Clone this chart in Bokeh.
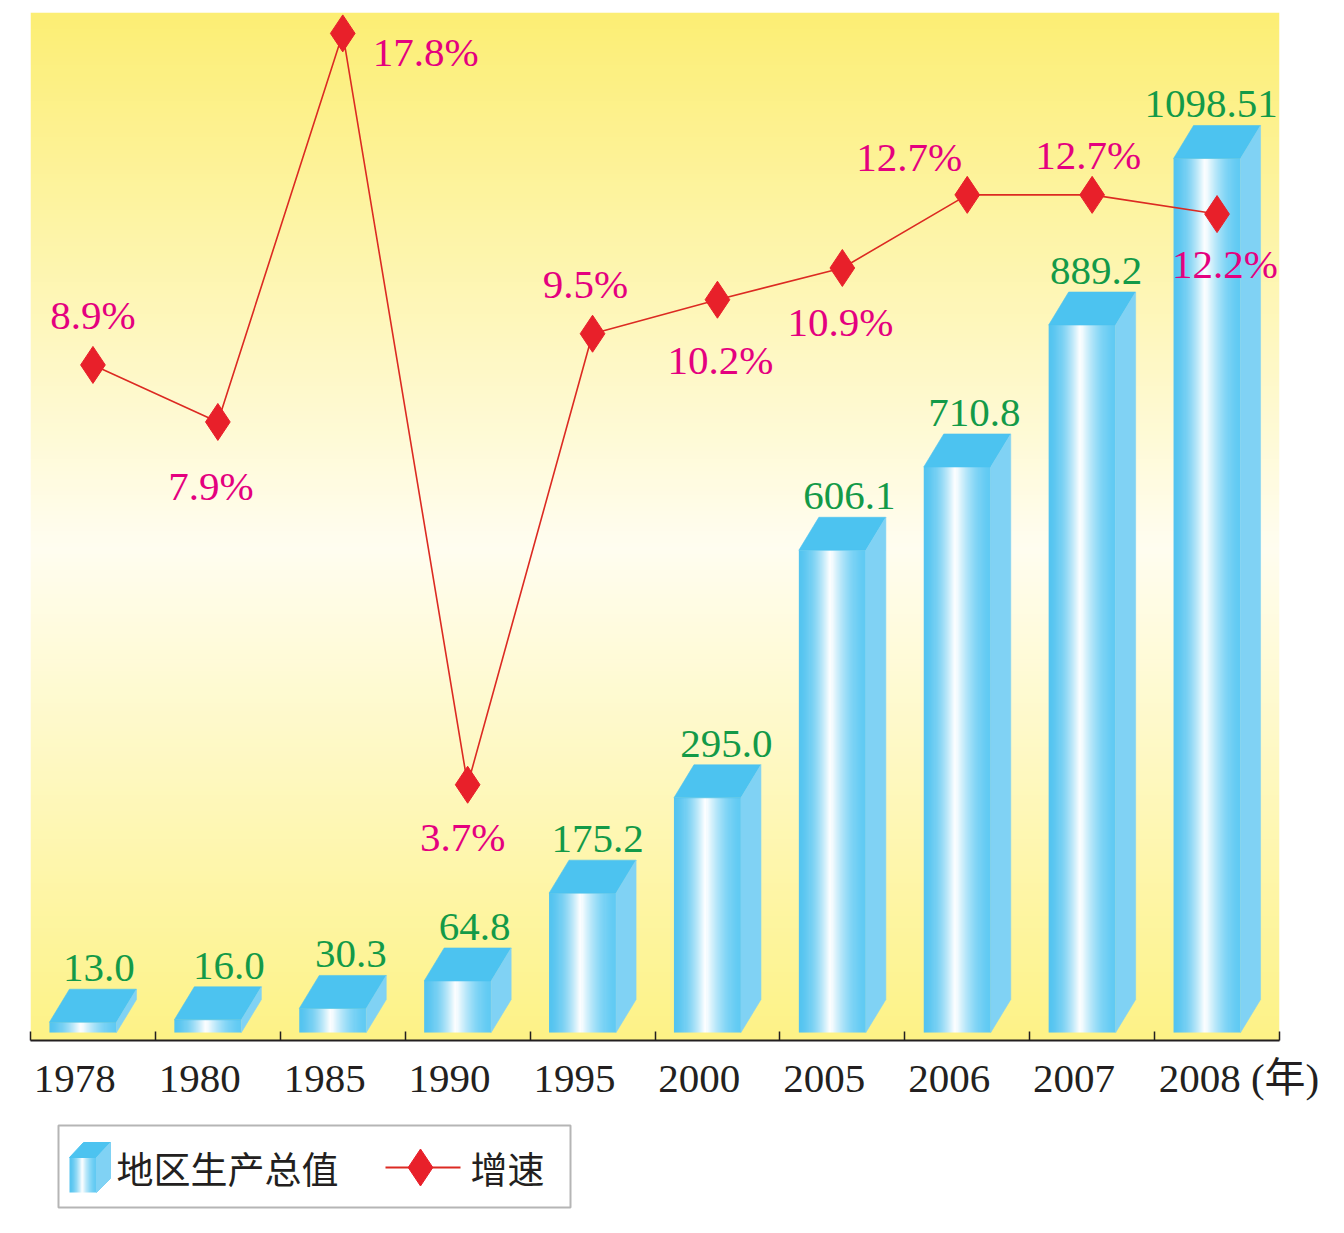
import numpy as np
from bokeh.plotting import figure
from bokeh.models import (Range1d, LinearAxis, FixedTicker, LogScale,
                          ColumnDataSource, CustomJSTickFormatter)
from bokeh.layouts import column
from bokeh.embed import file_html
from bokeh.resources import INLINE
from bokeh.core.properties import value

# ---------------- data ----------------
years = ["1978", "1980", "1985", "1990", "1995", "2000", "2005", "2006", "2007", "2008"]
gdp = [13.0, 16.0, 30.3, 64.8, 175.2, 295.0, 606.1, 710.8, 889.2, 1098.51]
gdp_text = ["13.0", "16.0", "30.3", "64.8", "175.2", "295.0", "606.1", "710.8", "889.2", "1098.51"]
growth = [8.9, 7.9, 17.8, 3.7, 9.5, 10.2, 10.9, 12.7, 12.7, 12.2]
growth_text = ["8.9%", "7.9%", "17.8%", "3.7%", "9.5%", "10.2%", "10.9%", "12.7%", "12.7%", "12.2%"]
axis_unit = "(年)"
legend_labels = ["地区生产总值", "增速"]

# ---------------- styles ----------------
SERIF = "Liberation Serif"
CJK = "Noto Sans CJK SC"
GREEN = "#139a48"
MAGENTA = "#e4007f"
RED = "#e8202a"
LINE_RED = "#dc2a22"
TOP_BLUE = "#4cc3f0"
SIDE_BLUE = "#80d2f4"
DARK = "#231f20"

# label placement offsets (screen px)
gdp_dx = [6, 11, 8, 7, 5, 9, 7, 7, 4, -6]
rate_dx = [0, -7, 83, -5, -7, 3, -2, -58, -4, 8]
rate_dy = [-50, 64, 19, 52, -50, 60, 54, -38, -40, 50]

# ---------------- geometry ----------------
W, H = 1340, 1110
BL, BR, BT, BB = 30, 61, 12, 70
FW = W - BL - BR
FH = H - BT - BB

n = len(years)
x_rng = Range1d(0, n)
y_rng = Range1d(-10, 1282)
rate_rng = Range1d(2.1676, 18.595)
xpu = FW / n
ypu = FH / (y_rng.end - y_rng.start)


def pack(rgb):
    rgb = np.asarray(rgb)
    out = np.empty(rgb.shape[:-1], dtype=np.uint32)
    v = out.view(np.uint8).reshape(rgb.shape[:-1] + (4,))
    v[..., :3] = np.clip(np.round(rgb), 0, 255).astype(np.uint8)
    v[..., 3] = 255
    return out


# background gradient (row 0 = bottom)
nr = 256
s = 1 - (np.arange(nr) + 0.5) / nr  # fraction from top
stops = [0.0, 0.52, 1.0]
bg_rgb = np.stack([
    np.interp(s, stops, [252, 255, 253]),
    np.interp(s, stops, [238, 253, 242]),
    np.interp(s, stops, [116, 240, 134]),
], axis=-1)
bg_img = pack(bg_rgb.reshape(nr, 1, 3))

# front-face horizontal gradient
nc = 64
xf = (np.arange(nc) + 0.5) / nc
peak = 0.47
w = np.where(xf < peak, xf / peak, (1 - xf) / (1 - peak)) ** 1.7
left_c = np.array([84, 196, 240])
right_c = np.array([96, 202, 243])
edge = np.where((xf < peak)[:, None], left_c[None, :], right_c[None, :])
front_rgb = edge + (255 - edge) * w[:, None]
front_img = pack(np.stack([front_rgb, front_rgb]).reshape(2, nc, 3))

# ---------------- main figure ----------------
p = figure(width=W, height=H, x_range=x_rng, y_range=y_rng,
           output_backend="svg", toolbar_location=None,
           min_border_left=BL, min_border_right=BR, min_border_top=BT,
           min_border_bottom=BB, x_axis_location=None, y_axis_location=None)
p.extra_y_ranges = {"rate": rate_rng}
p.extra_y_scales = {"rate": LogScale()}
p.grid.visible = False
p.outline_line_color = None
p.background_fill_color = "white"
p.border_fill_color = "white"

p.image_rgba(image=[bg_img], x=x_rng.start, y=y_rng.start,
             dw=x_rng.end - x_rng.start, dh=y_rng.end - y_rng.start, level="image")

cx = np.arange(n) + 0.5
g = np.array(gdp)
fw = 67 / xpu
L = cx - 43.5 / xpu
R = L + fw
dx = 20 / xpu
dy = 33 / ypu

p.image_rgba(image=[front_img] * n, x=list(L), y=0, dw=fw, dh=list(g))
top_xs = [[l, r, r + dx, l + dx] for l, r in zip(L, R)]
top_ys = [[v, v, v + dy, v + dy] for v in g]
p.patches(top_xs, top_ys, fill_color=TOP_BLUE, line_color=TOP_BLUE, line_width=0.6)
side_xs = [[r, r + dx, r + dx, r] for r in R]
side_ys = [[0, dy, v + dy, v] for v in g]
p.patches(side_xs, side_ys, fill_color=SIDE_BLUE, line_color=SIDE_BLUE, line_width=0.6)

gsrc = ColumnDataSource(dict(x=list(cx), y=list(g), t=gdp_text, xo=gdp_dx))
p.text(x="x", y="y", text="t", x_offset="xo", y_offset=-54, source=gsrc,
       text_font=value(SERIF), text_font_size="41px", text_color=GREEN,
       text_align="center", text_baseline="alphabetic")

p.line(x=list(cx), y=growth, y_range_name="rate", line_color=LINE_RED, line_width=1.6)
p.scatter(x=list(cx), y=growth, y_range_name="rate", marker="diamond", size=37,
          fill_color=RED, line_color=RED)

rsrc = ColumnDataSource(dict(x=list(cx), y=growth, t=growth_text, xo=rate_dx, yo=rate_dy))
p.text(x="x", y="y", text="t", x_offset="xo", y_offset="yo", source=rsrc,
       y_range_name="rate", text_font=value(SERIF), text_font_size="41px",
       text_color=MAGENTA, text_align="center", text_baseline="middle")

# x axis: boundary ticks as minor ticks, year labels as major ticks (no marks)
lab_ticks = list(cx - 0.145)
lab_ticks[-1] += 40 / xpu
tick_text = years[:-1] + [years[-1] + " " + axis_unit]
ax = LinearAxis(ticker=FixedTicker(ticks=lab_ticks, minor_ticks=list(range(n + 1))),
                formatter=CustomJSTickFormatter(args=dict(labels=tick_text),
                                                code="return labels[index];"),
                major_tick_line_color=None,
                minor_tick_in=9, minor_tick_out=0,
                minor_tick_line_color=DARK, minor_tick_line_width=1.5,
                axis_line_width=2, axis_line_color=DARK,
                major_label_standoff=8,
                major_label_text_font=SERIF + ", " + CJK,
                major_label_text_font_size="41px",
                major_label_text_color=DARK)
p.add_layout(ax, "below")

# ---------------- legend figure ----------------
LH = 115
lg = figure(width=W, height=LH, x_range=Range1d(BL, W - BR), y_range=Range1d(0, LH),
            output_backend="svg", toolbar_location=None,
            min_border_left=BL, min_border_right=BR, min_border_top=0, min_border_bottom=0,
            x_axis_location=None, y_axis_location=None)
lg.grid.visible = False
lg.outline_line_color = None
lg.border_fill_color = "white"
lg.background_fill_color = "white"

lg.quad(left=58, right=570, bottom=18, top=100, fill_color=None,
        line_color="#b5b5b5", line_width=2)
lg.image_rgba(image=[front_img], x=69, y=33, dw=27, dh=35)
lg.patches([[69, 96, 110, 83]], [[68, 68, 83, 83]], fill_color=TOP_BLUE, line_color=TOP_BLUE)
lg.patches([[96, 110, 110, 96]], [[33, 47, 83, 68]], fill_color=SIDE_BLUE, line_color=SIDE_BLUE)
lg.text(x=[116], y=[58], text=[legend_labels[0]], text_font=value(CJK),
        text_font_size="37px", text_color=DARK, text_align="left", text_baseline="middle")
lg.line([385, 460], [58, 58], line_color=LINE_RED, line_width=2)
lg.scatter([420], [58], marker="diamond", size=37, fill_color=RED, line_color=RED)
lg.text(x=[470], y=[58], text=[legend_labels[1]], text_font=value(CJK),
        text_font_size="37px", text_color=DARK, text_align="left", text_baseline="middle")

layout = column(p, lg)
with open("out.html", "w", encoding="utf-8") as f:
    f.write(file_html(layout, INLINE))
